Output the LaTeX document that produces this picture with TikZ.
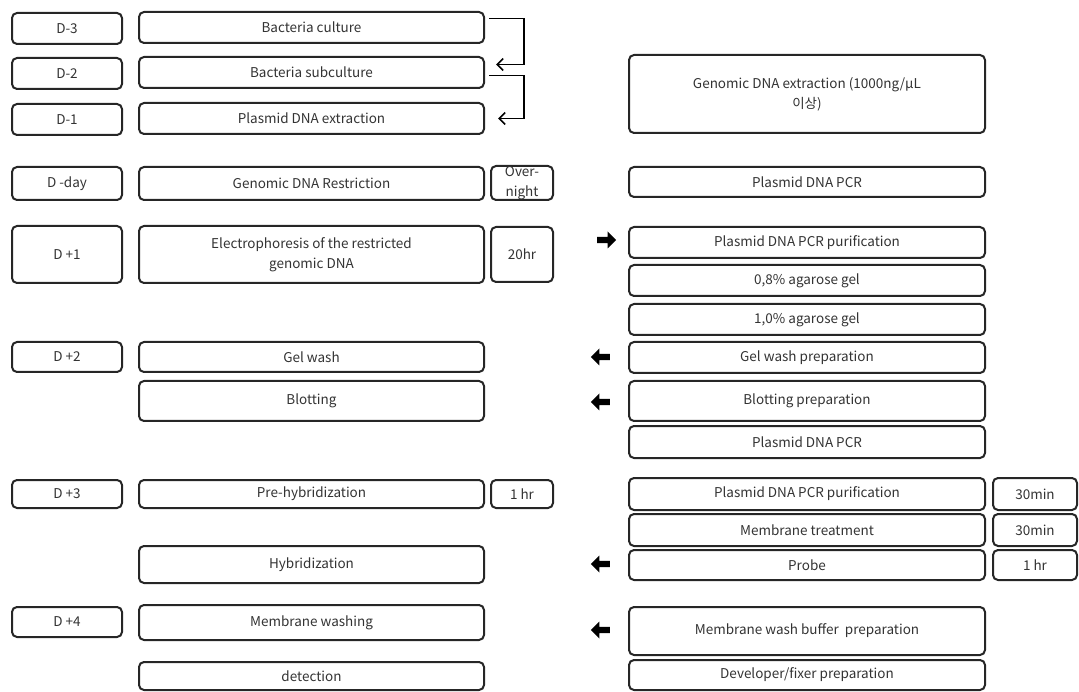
\documentclass[tikz,border=0pt]{standalone}
\usepackage{fontspec}
\setmainfont{Noto Sans CJK KR}
\usetikzlibrary{positioning, calc, shapes.arrows, arrows.meta}

\begin{document}
\begin{tikzpicture}[x=1pt, y=-1pt, >={Straight Barb[length=6pt,width=12pt]},
    every node/.style={font=\fontsize{13.5}{20}\selectfont, text=black!80},
    box/.style={draw=black!85, line width=2pt, rounded corners=5pt, align=center, inner sep=0pt},
    daybox/.style={box, minimum width=110pt},
    stepbox/.style={box, minimum width=345pt},
    timebox/.style={box, minimum width=62pt},
    prepbox/.style={box, minimum width=356pt},
    minbox/.style={box, minimum width=84pt},
    fat/.style={single arrow, fill=black, draw=none, minimum height=19pt, minimum width=17pt,
        single arrow head extend=2pt, inner sep=1pt}]
    \useasboundingbox (0,0) rectangle (1079,692);

    \node[daybox, minimum height=31pt] (d3)   at (67,28.5)  {D-3};
    \node[daybox, minimum height=31pt] (d2)   at (67,73.5)  {D-2};
    \node[daybox, minimum height=31pt] (d1)   at (67,119.5) {D-1};
    \node[daybox, minimum height=33pt] (dday) at (67,183.5) {D -day};
    \node[daybox, minimum height=57pt] (dp1)  at (67,254.5) {D +1};
    \node[daybox, minimum height=30pt] (dp2)  at (67,357)   {D +2};
    \node[daybox, minimum height=28pt] (dp3)  at (67,494)   {D +3};
    \node[daybox, minimum height=30pt] (dp4)  at (67,622)   {D +4};

    \node[stepbox, minimum height=31pt] (cult)   at (311.5,27.5)  {Bacteria culture};
    \node[stepbox, minimum height=31pt] (subc)   at (311.5,72.5)  {Bacteria subculture};
    \node[stepbox, minimum height=31pt] (pext)   at (311.5,118.5) {Plasmid DNA extraction};
    \node[stepbox, minimum height=33pt] (restr)  at (311.5,183.5) {Genomic DNA Restriction};
    \node[stepbox, minimum height=57pt] (elec)   at (311.5,254.5) {Electrophoresis of the restricted\\genomic DNA};
    \node[stepbox, minimum height=30pt] (gelw)   at (311.5,357)   {Gel wash};
    \node[stepbox, minimum height=40pt] (blot)   at (311.5,401)   {Blotting};
    \node[stepbox, minimum height=28pt] (prehyb) at (311.5,494)   {Pre-hybridization};
    \node[stepbox, minimum height=37pt] (hyb)    at (311.5,564.5) {Hybridization};
    \node[stepbox, minimum height=35pt] (memw)   at (311.5,622.5) {Membrane washing};
    \node[stepbox, minimum height=28pt] (detect) at (311.5,676)   {detection};

    \node[timebox, minimum height=34pt] (overn) at (522,183)   {Over-\\night};
    \node[timebox, minimum height=55pt] (t20)   at (522,254.5) {20hr};
    \node[timebox, minimum height=28pt] (t1)    at (522,494)   {1 hr};

    \node[prepbox, minimum height=78pt] (gext)     at (807,94)    {Genomic DNA extraction (1000ng/µL\\이상)};
    \node[prepbox, minimum height=30pt] (pcra)     at (807,182)   {Plasmid DNA PCR};
    \node[prepbox, minimum height=31pt] (pura)     at (807,242.5) {Plasmid DNA PCR purification};
    \node[prepbox, minimum height=31pt] (agar08)   at (807,280.5) {0,8\% agarose gel};
    \node[prepbox, minimum height=31pt] (agar10)   at (807,319.5) {1,0\% agarose gel};
    \node[prepbox, minimum height=31pt] (gelprep)  at (807,357.5) {Gel wash preparation};
    \node[prepbox, minimum height=40pt] (blotprep) at (807,401)   {Blotting preparation};
    \node[prepbox, minimum height=32pt] (pcrb)     at (807,442)   {Plasmid DNA PCR};
    \node[prepbox, minimum height=32pt] (purb)     at (807,494)   {Plasmid DNA PCR purification};
    \node[prepbox, minimum height=32pt] (memtr)    at (807,530)   {Membrane treatment};
    \node[prepbox, minimum height=30pt] (probe)    at (807,565)   {Probe};
    \node[prepbox, minimum height=48pt] (wbuf)     at (807,631)   {Membrane wash buffer~ preparation};
    \node[prepbox, minimum height=30pt] (devel)    at (807,675)   {Developer/fixer preparation};

    \node[minbox, minimum height=32pt] (m30a) at (1035,494) {30min};
    \node[minbox, minimum height=32pt] (m30b) at (1035,530) {30min};
    \node[minbox, minimum height=30pt] (h1)   at (1035,565) {1 hr};

    \node[fat] (go)    at (605,240) {};
    \node[fat, shape border rotate=180] (back1) at (602,357) {};
    \node[fat, shape border rotate=180] (back2) at (602,402) {};
    \node[fat, shape border rotate=180] (back3) at (602,564) {};
    \node[fat, shape border rotate=180] (back4) at (602,630) {};

    \draw[->, line width=1.6pt] ($(cult.east)+(4,-9)$) -- ++(35,0) |- ($(subc.east)+(11,-8)$);
    \draw[->, line width=1.6pt] ($(subc.east)+(4,3)$) -- ++(35,0) |- ($(pext.east)+(13,0)$);
\end{tikzpicture}
\end{document}
